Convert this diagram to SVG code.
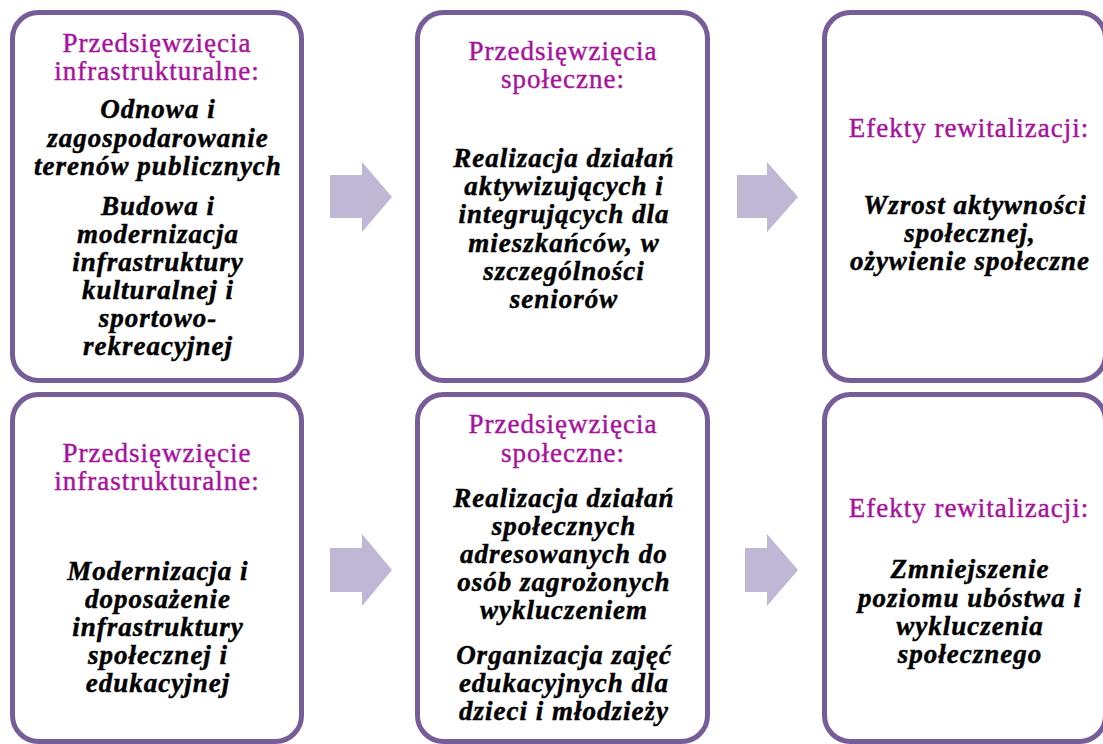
<svg xmlns="http://www.w3.org/2000/svg" width="1103" height="744" viewBox="0 0 1103 744">
<style>
.box{fill:#fff;stroke:#765C98;stroke-width:5}
.arrow{fill:#BFB7D3;stroke:none}
.h{font-family:"Liberation Serif","Times New Roman",serif;font-size:27px;fill:#A8119D;stroke:#A8119D;stroke-width:0.4;text-anchor:middle;letter-spacing:1px}
.b{font-family:"Liberation Serif","Times New Roman",serif;font-size:27px;font-weight:bold;font-style:italic;fill:#000;stroke:#000;stroke-width:0.45;text-anchor:middle;letter-spacing:1px}
</style>
<rect width="1103" height="744" fill="#fff"/>
<g id="connectors">
<polygon class="arrow" points="330,175 362,175 362,162 392,197 362,232 362,218 330,218"/>
<polygon class="arrow" points="737,175 767,175 767,162 798,197 767,232 767,218 737,218"/>
<polygon class="arrow" points="330,548 362,548 362,534 392,570 362,606 362,592 330,592"/>
<polygon class="arrow" points="745,548 767,548 767,534 798,570 767,606 767,592 745,592"/>
</g>
<g id="node-infra-1">
<rect class="box" x="12.5" y="12.5" width="289" height="368" rx="26"/>
<text class="h" x="157" y="52">Przedsięwzięcia</text>
<text class="h" x="157" y="80">infrastrukturalne:</text>
<text class="b" x="158" y="118">Odnowa i</text>
<text class="b" x="158" y="147">zagospodarowanie</text>
<text class="b" x="158" y="175">terenów publicznych</text>
<text class="b" x="158" y="215">Budowa i</text>
<text class="b" x="158" y="243">modernizacja</text>
<text class="b" x="158" y="271">infrastruktury</text>
<text class="b" x="158" y="299">kulturalnej i</text>
<text class="b" x="158" y="327">sportowo-</text>
<text class="b" x="158" y="355">rekreacyjnej</text>
</g>
<g id="node-spol-1">
<rect class="box" x="417.5" y="12.5" width="290" height="368" rx="26"/>
<text class="h" x="563" y="60">Przedsięwzięcia</text>
<text class="h" x="563" y="88">społeczne:</text>
<text class="b" x="564" y="167">Realizacja działań</text>
<text class="b" x="564" y="195">aktywizujących i</text>
<text class="b" x="564" y="223">integrujących dla</text>
<text class="b" x="564" y="252">mieszkańców, w</text>
<text class="b" x="564" y="280">szczególności</text>
<text class="b" x="564" y="308">seniorów</text>
</g>
<g id="node-efekty-1">
<rect class="box" x="824.5" y="12.5" width="281" height="368" rx="26"/>
<text class="h" x="969" y="137">Efekty rewitalizacji:</text>
<text class="b" x="975" y="214">Wzrost aktywności</text>
<text class="b" x="970" y="242">społecznej,</text>
<text class="b" x="970" y="270">ożywienie społeczne</text>
</g>
<g id="node-infra-2">
<rect class="box" x="12.5" y="394.5" width="289" height="347" rx="26"/>
<text class="h" x="157" y="462">Przedsięwzięcie</text>
<text class="h" x="157" y="490">infrastrukturalne:</text>
<text class="b" x="158" y="580">Modernizacja i</text>
<text class="b" x="158" y="608">doposażenie</text>
<text class="b" x="158" y="636">infrastruktury</text>
<text class="b" x="158" y="664">społecznej i</text>
<text class="b" x="158" y="692">edukacyjnej</text>
</g>
<g id="node-spol-2">
<rect class="box" x="417.5" y="394.5" width="290" height="347" rx="26"/>
<text class="h" x="563" y="433">Przedsięwzięcia</text>
<text class="h" x="563" y="462">społeczne:</text>
<text class="b" x="564" y="507">Realizacja działań</text>
<text class="b" x="564" y="535">społecznych</text>
<text class="b" x="564" y="563">adresowanych do</text>
<text class="b" x="564" y="591">osób zagrożonych</text>
<text class="b" x="564" y="619">wykluczeniem</text>
<text class="b" x="564" y="664">Organizacja zajęć</text>
<text class="b" x="564" y="692">edukacyjnych dla</text>
<text class="b" x="564" y="720">dzieci i młodzieży</text>
</g>
<g id="node-efekty-2">
<rect class="box" x="824.5" y="394.5" width="281" height="347" rx="26"/>
<text class="h" x="969" y="517">Efekty rewitalizacji:</text>
<text class="b" x="970" y="578">Zmniejszenie</text>
<text class="b" x="970" y="607">poziomu ubóstwa i</text>
<text class="b" x="970" y="635">wykluczenia</text>
<text class="b" x="970" y="663">społecznego</text>
</g>
</svg>
